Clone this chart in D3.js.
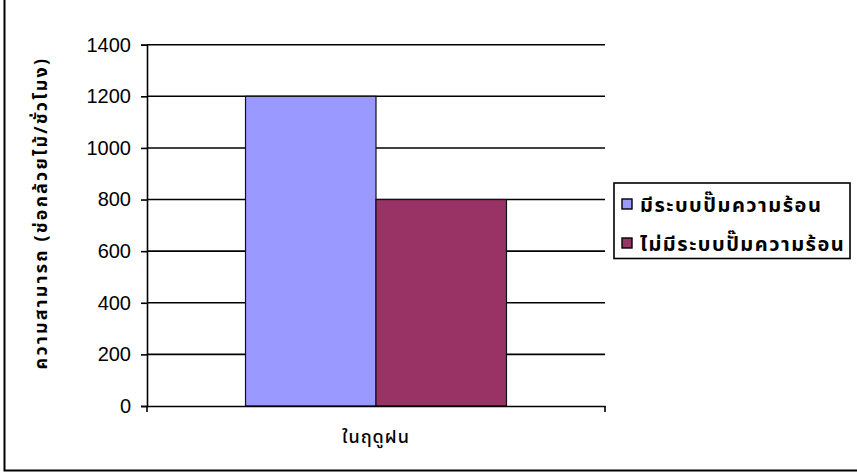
<!DOCTYPE html>
<html>
<head>
<meta charset="utf-8">
<script src="https://cdn.jsdelivr.net/npm/d3@7"></script>
<style>
  html, body { margin: 0; padding: 0; background: #fff; }
  svg { display: block; }
</style>
</head>
<body>
<svg id="chart" width="857" height="473"></svg>
<script>
// Data
const categories = ["ในฤดูฝน"];
const seriesNames = ["มีระบบปั๊มความร้อน", "ไม่มีระบบปั๊มความร้อน"];
const seriesColors = ["#9999FF", "#993366"];
const valuesWithPump = [1200];
const valuesWithoutPump = [800];
const yTicks = [0, 200, 400, 600, 800, 1000, 1200, 1400];
const yTitle = "ความสามารถ (ช่อกล้วยไม้/ชั่วโมง)";

const thaiFont = "Tahoma, 'Noto Sans Thai', 'Noto Sans', 'DejaVu Sans', sans-serif";
const numFont = "'Liberation Sans', Arial, sans-serif";

const svg = d3.select("#chart");

// Outer chart frame (left and bottom edges visible)
svg.append("rect")
  .attr("x", 4.5).attr("y", -10)
  .attr("width", 900).attr("height", 480.5)
  .attr("fill", "none").attr("stroke", "#000").attr("stroke-width", 2);

const plot = { left: 147, right: 605, top: 44.7, bottom: 406 };

const y = d3.scaleLinear().domain([0, 1400]).range([plot.bottom, plot.top]);
const x0 = d3.scaleBand().domain(categories).range([plot.left, plot.right]).paddingInner(0).paddingOuter(0);
// 75% gap on either side of the bar cluster
const x1 = d3.scaleBand().domain(seriesNames).range([0, x0.bandwidth()]).paddingOuter(0.755).paddingInner(0);

// Gridlines
svg.append("g")
  .selectAll("line")
  .data(yTicks.filter(t => t > 0))
  .join("line")
  .attr("x1", plot.left).attr("x2", plot.right)
  .attr("y1", d => y(d)).attr("y2", d => y(d))
  .attr("stroke", "#000").attr("stroke-width", 1.6);

// Bars
const rows = categories.map((c, i) => ({
  category: c,
  values: [valuesWithPump[i], valuesWithoutPump[i]]
}));

svg.append("g")
  .selectAll("g")
  .data(rows)
  .join("g")
  .attr("transform", d => `translate(${x0(d.category)},0)`)
  .selectAll("rect")
  .data(d => d.values.map((v, j) => ({ name: seriesNames[j], value: v, color: seriesColors[j] })))
  .join("rect")
  .attr("x", d => x1(d.name))
  .attr("y", d => y(d.value))
  .attr("width", x1.bandwidth())
  .attr("height", d => y(0) - y(d.value))
  .attr("fill", d => d.color)
  .attr("stroke", "#111").attr("stroke-width", 1.2);

// Y axis
const yAxis = d3.axisLeft(y).tickValues(yTicks).tickSize(6).tickPadding(10).tickFormat(d3.format("d"));
const yg = svg.append("g").attr("transform", `translate(${plot.left},0)`).call(yAxis);
yg.select(".domain").attr("stroke", "#000").attr("stroke-width", 1.6);
yg.selectAll(".tick line").attr("stroke", "#000").attr("stroke-width", 1.6);
yg.selectAll(".tick text")
  .attr("font-family", numFont).attr("font-size", 20).attr("fill", "#000");

// X axis
const xAxis = d3.axisBottom(x0).tickSize(0).tickPadding(24);
const xg = svg.append("g").attr("transform", `translate(0,${plot.bottom})`).call(xAxis);
xg.select(".domain").attr("stroke", "#000").attr("stroke-width", 1.6);
xg.selectAll(".tick text")
  .attr("font-family", thaiFont).attr("font-size", 18).attr("font-weight", 500)
  .attr("letter-spacing", 1).attr("fill", "#000");
// Category boundary ticks
xg.selectAll("line.edge")
  .data([plot.left, plot.right])
  .join("line")
  .attr("class", "edge")
  .attr("x1", d => d).attr("x2", d => d)
  .attr("y1", 0).attr("y2", 6)
  .attr("stroke", "#000").attr("stroke-width", 1.6);

// Y axis title
svg.append("text")
  .attr("transform", "translate(47,213) rotate(-90)")
  .attr("text-anchor", "middle")
  .attr("font-family", thaiFont).attr("font-size", 18).attr("font-weight", "bold")
  .attr("letter-spacing", 2.2)
  .attr("fill", "#000")
  .text(yTitle);

// Legend
const legend = svg.append("g").attr("transform", "translate(614,183)");
legend.append("rect")
  .attr("x", 0).attr("y", 0).attr("width", 236).attr("height", 75.5)
  .attr("fill", "#fff").attr("stroke", "#000").attr("stroke-width", 1.6);
const items = legend.selectAll("g.item")
  .data(seriesNames.map((n, i) => ({ name: n, color: seriesColors[i] })))
  .join("g").attr("class", "item")
  .attr("transform", (d, i) => `translate(0,${21 + i * 39})`);
items.append("rect")
  .attr("x", 8).attr("y", -5).attr("width", 10).attr("height", 10)
  .attr("fill", d => d.color).attr("stroke", "#000").attr("stroke-width", 1.4);
items.append("text")
  .attr("x", 26).attr("y", 0).attr("dy", "0.38em")
  .attr("font-family", thaiFont).attr("font-size", 20).attr("font-weight", "bold")
  .attr("letter-spacing", 1.5)
  .attr("fill", "#000")
  .text(d => d.name);
</script>
</body>
</html>
